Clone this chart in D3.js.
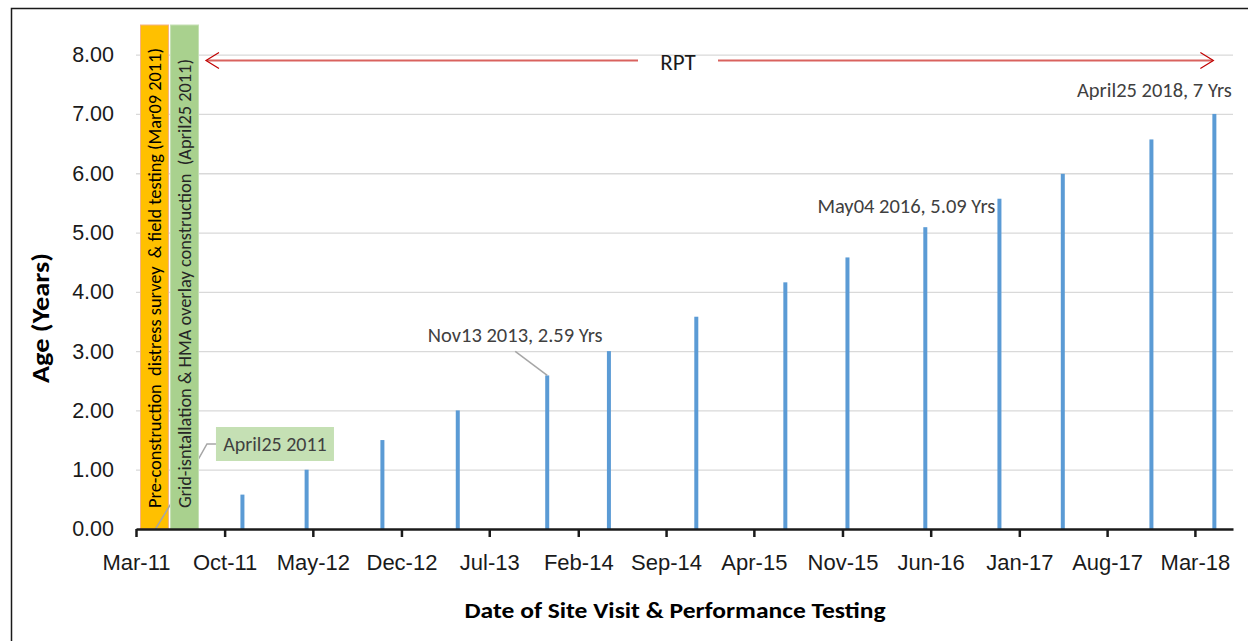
<!DOCTYPE html>
<html>
<head>
<meta charset="utf-8">
<script src="https://cdn.jsdelivr.net/npm/d3@7"></script>
<style>
  body { margin: 0; background: #fff; }
  svg { display: block; font-family: Carlito, Calibri, Lato, sans-serif; }
</style>
</head>
<body>
<svg id="chart" width="1248" height="641"></svg>
<script>
// site visits (date) and pavement age in years
const visitDates = ['2011-11-21', '2012-04-24', '2012-10-24', '2013-04-24', '2013-11-26', '2014-04-24', '2014-11-21',
    '2015-06-24', '2015-11-21', '2016-05-27', '2016-11-22', '2017-04-24', '2017-11-24', '2018-04-25'];
const ageYears = [0.58, 1.00, 1.50, 2.00, 2.59, 3.00, 3.58, 4.16, 4.58, 5.09, 5.57, 5.99, 6.57, 7.00];

// construction phases drawn as tall columns
const phaseNames = ['Pre-construction  distress survey  & field testing (Mar09 2011)',
    'Grid-isntallation & HMA overlay construction  (April25 2011)'];
const phaseDates = ['2011-03-09', '2011-04-25'];
const phaseHeight = 8.5;

const yTicks = [0, 1, 2, 3, 4, 5, 6, 7, 8];
const xTickDates = ['2011-03-09', '2011-10-09', '2012-05-09', '2012-12-09', '2013-07-09', '2014-02-09', '2014-09-09',
    '2015-04-09', '2015-11-09', '2016-06-09', '2017-01-09', '2017-08-09', '2018-03-09'];
const xDomain = ['2011-03-09', '2018-06-09'];

const parse = d3.utcParse('%Y-%m-%d');
const fmtTick = d3.utcFormat('%b-%y');

const svg = d3.select('#chart');
const W = 1248, H = 641;
const margin = { left: 136, right: 15, top: 25, bottom: 112 };

// chart border
svg.append('rect')
    .attr('x', 11.5).attr('y', 8.5)
    .attr('width', W + 20).attr('height', H + 20)
    .style('fill', 'none').style('stroke', '#1a1a1a').style('stroke-width', 1.5);

// Scales
const scaleX = d3.scaleUtc()
    .domain(xDomain.map(parse))
    .range([margin.left, W - margin.right]);

const scaleY = d3.scaleLinear()
    .domain([0, phaseHeight])
    .range([H - margin.bottom, margin.top]);

// Grid
svg.append('g')
    .selectAll('line')
    .data(yTicks.slice(1))
    .join('line')
    .attr('x1', margin.left).attr('x2', W - margin.right)
    .attr('y1', d => scaleY(d) + 0.5).attr('y2', d => scaleY(d) + 0.5)
    .style('stroke', '#d9d9d9').style('stroke-width', 1.3);

// Y axis (labels only)
const yAxis = svg.append('g')
    .attr('transform', `translate(${margin.left},0)`)
    .call(d3.axisLeft(scaleY).tickValues(yTicks).tickFormat(d3.format('.2f')).tickSize(0).tickPadding(22));
yAxis.select('.domain').remove();
yAxis.selectAll('text')
    .style('font-size', '21.5px').style('fill', '#1a1a1a');

// Phase columns
const phaseStart = scaleX(parse(phaseDates[0])) + 4.5;
const scalePhase = d3.scaleBand()
    .domain(phaseNames)
    .range([phaseStart, phaseStart + 58])
    .paddingInner(0.07);
const phaseFill = ['#ffc000', '#a9d18e'];
const phaseStroke = ['#f4b183', '#c5e0b4'];
const phaseTextLen = [460, 449];

const drawPhase = (i) => {
    const g = svg.append('g');
    g.append('rect')
        .attr('x', scalePhase(phaseNames[i]))
        .attr('y', scaleY(phaseHeight))
        .attr('width', scalePhase.bandwidth())
        .attr('height', scaleY(0) - scaleY(phaseHeight))
        .style('fill', phaseFill[i])
        .style('stroke', phaseStroke[i])
        .style('stroke-width', 1);
    const cx = scalePhase(phaseNames[i]) + scalePhase.bandwidth() / 2 + 6.5;
    g.append('text')
        .attr('transform', `translate(${cx},${scaleY(0) - 21}) rotate(-90)`)
        .attr('textLength', phaseTextLen[i])
        .attr('lengthAdjust', 'spacingAndGlyphs')
        .style('white-space', 'pre')
        .text(phaseNames[i])
        .style('font-size', '18px')
        .style('fill', i === 0 ? '#000' : '#262626');
};

drawPhase(0);

// leader for "April25 2011" (passes behind the green column)
const a0x = scaleX(parse(phaseDates[1]));
const a0y = scaleY(0);
svg.append('polyline')
    .attr('points', [[a0x, a0y], [a0x + 43.5, a0y - 71], [a0x + 51.5, a0y - 85], [a0x + 60.5, a0y - 85]].join(' '))
    .style('fill', 'none').style('stroke', '#a6a6a6').style('stroke-width', 1.5);

drawPhase(1);

// Visit bars
svg.append('g')
    .selectAll('rect')
    .data(visitDates)
    .join('rect')
    .attr('x', d => scaleX(parse(d)) - 2)
    .attr('y', (_d, i) => scaleY(ageYears[i]))
    .attr('width', 4)
    .attr('height', (_d, i) => scaleY(0) - scaleY(ageYears[i]))
    .style('fill', '#5b9bd5');

// X axis
const xAxis = svg.append('g')
    .attr('transform', `translate(0,${scaleY(0)})`)
    .call(d3.axisBottom(scaleX).tickValues(xTickDates.map(parse)).tickFormat(fmtTick).tickSizeInner(8).tickSizeOuter(0).tickPadding(17));
xAxis.select('.domain').style('stroke', '#1a1a1a').style('stroke-width', 2.5);
xAxis.selectAll('.tick line').style('stroke', '#1a1a1a').style('stroke-width', 2.5);
xAxis.selectAll('text').style('font-size', '22px').style('fill', '#1a1a1a');

// April25 2011 label box
const boxG = svg.append('g');
boxG.append('rect')
    .attr('x', a0x + 60.5).attr('y', a0y - 102)
    .attr('width', 118).attr('height', 34)
    .style('fill', '#c5e0b4');
boxG.append('text')
    .attr('x', a0x + 60.5 + 59).attr('y', a0y - 78)
    .attr('text-anchor', 'middle')
    .text('April25 2011')
    .style('font-size', '20px').style('fill', '#404040');

// Data labels
const labelIdx = [4, 9, 13];
const labelText = ['Nov13 2013, 2.59 Yrs', 'May04 2016, 5.09 Yrs', 'April25 2018, 7 Yrs'];
const labelDx = [-32, -19, -60];
const labelDy = [-33, -14, -17];

labelIdx.forEach((idx, k) => {
    const bx = scaleX(parse(visitDates[idx]));
    const by = scaleY(ageYears[idx]);
    svg.append('text')
        .attr('x', bx + labelDx[k]).attr('y', by + labelDy[k])
        .attr('text-anchor', 'middle')
        .text(labelText[k])
        .style('font-size', '20.5px').style('fill', '#404040');
});

// leader for Nov13 2013
{
    const bx = scaleX(parse(visitDates[4]));
    const by = scaleY(ageYears[4]);
    svg.append('line')
        .attr('x1', bx).attr('y1', by)
        .attr('x2', bx - 32).attr('y2', by - 24)
        .style('stroke', '#a6a6a6').style('stroke-width', 1.5);
}

// RPT arrow
const rptY = scaleY(7.9);
const rptL = scalePhase(phaseNames[1]) + scalePhase.bandwidth() + 7.5;
const rptR = scaleX(parse(visitDates[visitDates.length - 1])) - 1;
const rptC = 678;
const arrowG = svg.append('g');
arrowG.append('line')
    .attr('x1', rptL + 1).attr('x2', rptC - 40).attr('y1', rptY).attr('y2', rptY)
    .style('stroke', '#d9625e').style('stroke-width', 2);
arrowG.append('line')
    .attr('x1', rptC + 40).attr('x2', rptR - 1).attr('y1', rptY).attr('y2', rptY)
    .style('stroke', '#d9625e').style('stroke-width', 2);
arrowG.append('polyline')
    .attr('points', [[rptL + 13, rptY - 8], [rptL, rptY], [rptL + 13, rptY + 8]].join(' '))
    .style('fill', 'none').style('stroke', '#c00000').style('stroke-width', 1.2);
arrowG.append('polyline')
    .attr('points', [[rptR - 13, rptY - 8], [rptR, rptY], [rptR - 13, rptY + 8]].join(' '))
    .style('fill', 'none').style('stroke', '#c00000').style('stroke-width', 1.2);
arrowG.append('text')
    .attr('x', rptC).attr('y', rptY + 9)
    .attr('text-anchor', 'middle')
    .text('RPT')
    .style('font-size', '23px').style('fill', '#1a1a1a');

// Axis titles
svg.append('text')
    .attr('transform', `translate(49,${(scaleY(0) + scaleY(8.5)) / 2 + 41}) rotate(-90)`)
    .attr('text-anchor', 'middle')
    .attr('textLength', 130)
    .attr('lengthAdjust', 'spacingAndGlyphs')
    .text('Age (Years)')
    .style('font-size', '24px').style('font-weight', '700').style('fill', '#000');

svg.append('text')
    .attr('x', 675).attr('y', 618)
    .attr('text-anchor', 'middle')
    .attr('textLength', 421)
    .attr('lengthAdjust', 'spacingAndGlyphs')
    .text('Date of Site Visit & Performance Testing')
    .style('font-size', '22px').style('font-weight', '700').style('fill', '#000');
</script>
</body>
</html>
